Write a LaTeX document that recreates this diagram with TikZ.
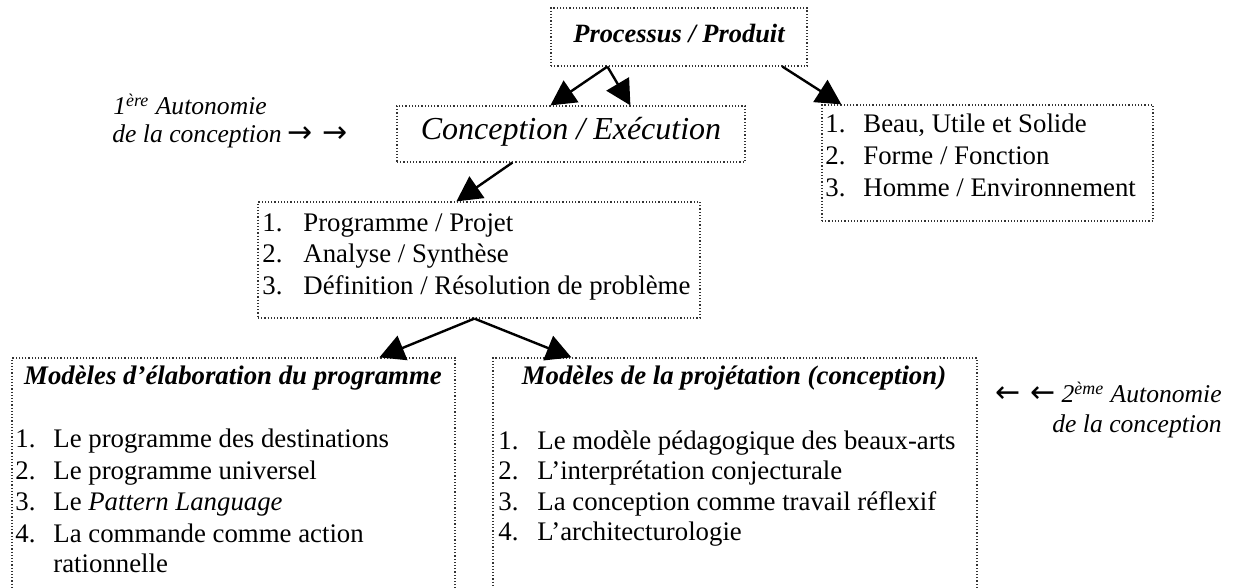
\documentclass[tikz,border=0pt]{standalone}
\usepackage{fontspec}
\setmainfont{Liberation Serif}
\newfontfamily\arrowfont{DejaVu Sans}
\usetikzlibrary{arrows.meta,calc,fit}
\begin{document}
\begin{tikzpicture}[x=0.5pt,y=-0.5pt,
  box/.style={draw=black!80, line width=0.6pt, inner sep=0pt, densely dotted},
  arr/.style={line width=1.2pt, -{Triangle[length=12.5pt,width=13pt]}},
  txt/.style={inner sep=0pt, anchor=base west, font=\fontsize{13.4pt}{16pt}\selectfont},
  ann/.style={inner sep=0pt, anchor=base west, font=\fontsize{12.8pt}{16pt}\selectfont\itshape},
  ttl/.style={inner sep=0pt, anchor=base, font=\fontsize{13.4pt}{16pt}\selectfont\bfseries\itshape},
]
\clip (0,0) rectangle (1238,588);
\fill[white] (0,0) rectangle (1238,588);

% boxes
\node[box, fit={(551,8) (807,66)}] (top) {};
\node[box, fit={(397,106) (745,162)}] (conc) {};
\node[box, fit={(822,105) (1153,221)}] (right) {};
\node[box, fit={(258,202) (700,318)}] (prog) {};
\node[box, fit={(12,358) (455,600)}] (left) {};
\node[box, fit={(493,358) (977,600)}] (mid) {};

% titles
\node[inner sep=0pt, anchor=base, font=\fontsize{13.2pt}{16pt}\selectfont\bfseries\itshape] (ttop) at (679,43) {Processus / Produit};
\node[inner sep=0pt, anchor=base, font=\fontsize{16pt}{18pt}\selectfont\itshape] (tconc) at (571,140) {Conception / Exécution};

% right box items
\node[txt] (r1n) at (825,133) {1.};
\node[txt] (r1) at (863,133) {Beau, Utile et Solide};
\node[txt] (r2n) at (825,165) {2.};
\node[txt] (r2) at (863,165) {Forme / Fonction};
\node[txt] (r3n) at (825,197) {3.};
\node[txt] (r3) at (863,197) {Homme / Environnement};

% programme box items
\node[txt] (p1n) at (262,232) {1.};
\node[txt] (p1) at (303,232) {Programme / Projet};
\node[txt] (p2n) at (262,263) {2.};
\node[txt] (p2) at (303,263) {Analyse / Synthèse};
\node[txt] (p3n) at (262,295) {3.};
\node[txt] (p3) at (303,295) {Définition / Résolution de problème};

% left bottom box
\node[ttl] (tleft) at (233,385) {Modèles d’élaboration du programme};
\node[txt] (l1n) at (15,448) {1.};
\node[txt] (l1) at (53,448) {Le programme des destinations};
\node[txt] (l2n) at (15,480) {2.};
\node[txt] (l2) at (53,480) {Le programme universel};
\node[txt] (l3n) at (15,510) {3.};
\node[txt] (l3) at (53,510) {Le \textit{Pattern Language}};
\node[txt] (l4n) at (15,542) {4.};
\node[txt] (l4) at (53,542) {La commande comme action};
\node[txt] (l4b) at (53,572) {rationnelle};

% middle bottom box
\node[ttl] (tmid) at (734,385) {Modèles de la projétation (conception)};
\node[txt] (m1n) at (498,450) {1.};
\node[txt] (m1) at (537,450) {Le modèle pédagogique des beaux-arts};
\node[txt] (m2n) at (498,480) {2.};
\node[txt] (m2) at (537,480) {L’interprétation conjecturale};
\node[txt] (m3n) at (498,510) {3.};
\node[txt] (m3) at (537,510) {La conception comme travail réflexif};
\node[txt] (m4n) at (498,540) {4.};
\node[txt] (m4) at (537,540) {L’architecturologie};

% annotations
\node[ann] (a1) at (113,115) {1\textsuperscript{ère} Autonomie};
\node[ann] (a2) at (112,143) {de la conception {\upshape\fontsize{15pt}{16pt}\selectfont\arrowfont → →}};
\node[ann, anchor=base east] (b1) at (1222,403) {{\upshape\fontsize{15pt}{16pt}\selectfont\arrowfont ← ←} 2\textsuperscript{ème} Autonomie};
\node[ann, anchor=base east] (b2) at (1222,433) {de la conception};

% connectors
\draw[arr] ($(top.south west)+(57,0)$) -- ($(conc.north west)+(154,0)$);
\draw[arr] ($(top.south west)+(57,0)$) -- ($(conc.north west)+(234,0)$);
\draw[arr] ($(top.south west)+(232,0)$) -- ($(right.north west)+(20,0)$);
\draw[arr] ($(conc.south west)+(116,0)$) -- ($(prog.north west)+(199,0)$);
\draw[arr] ($(prog.south west)+(217,0)$) -- ($(left.north west)+(368,0)$);
\draw[arr] ($(prog.south west)+(217,0)$) -- ($(mid.north west)+(79,0)$);
\end{tikzpicture}
\end{document}
